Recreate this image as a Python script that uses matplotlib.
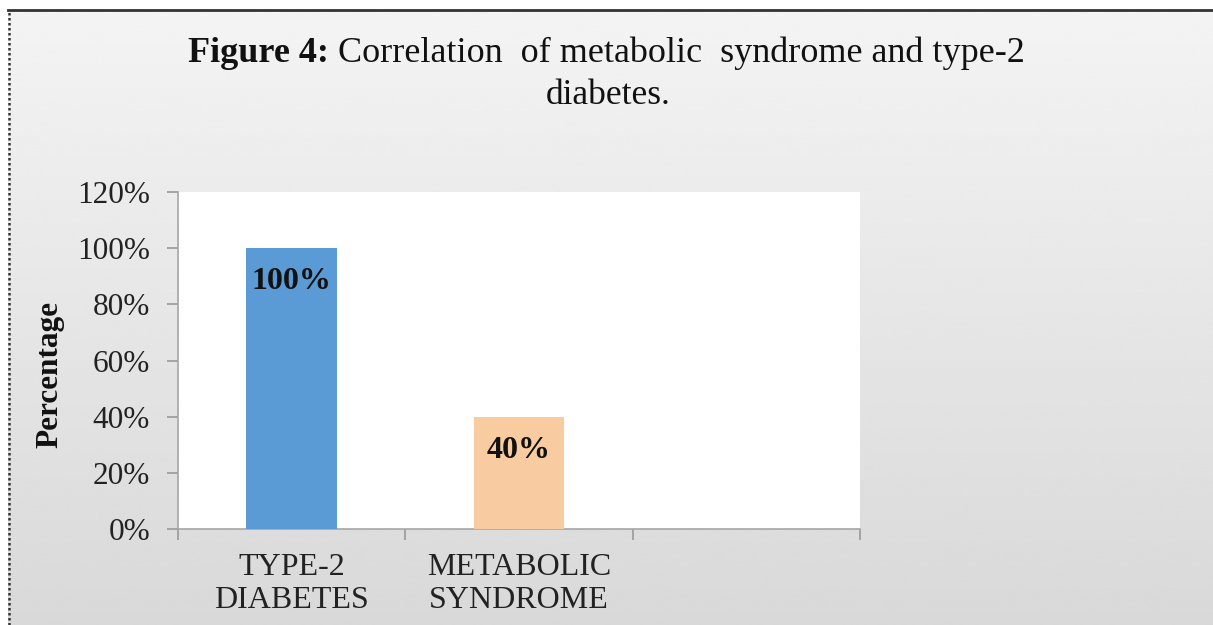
import numpy as np
import matplotlib
matplotlib.use("Agg")
import matplotlib.pyplot as plt
from matplotlib.lines import Line2D

categories = ["TYPE-2\nDIABETES", "METABOLIC\nSYNDROME", ""]
values = [100, 40, None]
value_labels = ["100%", "40%"]
bar_colors = ["#5B9BD5", "#F8CBA0"]
yticks = [0, 20, 40, 60, 80, 100, 120]
ytick_labels = ["0%", "20%", "40%", "60%", "80%", "100%", "120%"]

plt.rcParams["font.family"] = ["Liberation Serif", "DejaVu Serif"]

W, H = 1213, 625
fig = plt.figure(figsize=(W / 100, H / 100), dpi=100)
fig.patch.set_facecolor("white")

# Gradient chart-area background inside the frame
bg = fig.add_axes([8 / W, 0, 1 - 8 / W, 1 - 10 / H], zorder=0)
grad = np.linspace(0.955, 0.85, 256).reshape(-1, 1)
bg.imshow(np.repeat(grad, 2, axis=1), cmap="gray", vmin=0, vmax=1,
          aspect="auto", extent=[0, 1, 0, 1], interpolation="bicubic")
bg.set_xlim(0, 1)
bg.set_ylim(0, 1)
bg.axis("off")

# Frame: solid top edge, dotted left edge
fig.add_artist(Line2D([8 / W, 1], [1 - 10 / H, 1 - 10 / H], color="#333333",
                      lw=2.0, transform=fig.transFigure))
fig.add_artist(Line2D([9 / W, 9 / W], [0, 1 - 10 / H], color="#333333",
                      lw=1.8, ls=(0, (1, 1)), transform=fig.transFigure))

ax = fig.add_axes([178 / W, 1 - 529 / H, (860 - 178) / W, (529 - 192) / H], zorder=2)
ax.set_facecolor("white")

x = np.arange(len(categories))
bar_vals = [v if v is not None else 0 for v in values]
bars = ax.bar(x[:2], bar_vals[:2], width=0.4, color=bar_colors, zorder=3)

for xi, v, lab in zip(x[:2], bar_vals[:2], value_labels):
    ax.annotate(lab, (xi, v), xytext=(0, -24), textcoords="offset points",
                ha="center", va="center", fontsize=23, fontweight="bold",
                color="#111111", zorder=4)

ax.set_xlim(-0.5, 2.5)
ax.set_ylim(0, 120)
ax.set_yticks(yticks)
ax.set_yticklabels(ytick_labels, fontsize=22.5, color="#222222")
ax.set_xticks([-0.5, 0.5, 1.5, 2.5], minor=False)
ax.set_xticklabels([])
ax.set_xticks(x, minor=True)
ax.set_xticklabels(categories, minor=True, fontsize=23, color="#222222",
                   linespacing=1.22)
ax.tick_params(axis="x", which="minor", length=0, pad=17)
ax.tick_params(axis="x", which="major", length=8, color="#999999", width=1.2)
ax.tick_params(axis="y", length=8, color="#999999", width=1.2, pad=12)

for s in ["top", "right"]:
    ax.spines[s].set_visible(False)
for s in ["left", "bottom"]:
    ax.spines[s].set_color("#A6A6A6")
    ax.spines[s].set_linewidth(1.2)

fig.text(50 / W, 1 - 374 / H, "Percentage", rotation=90, ha="center",
         va="center", fontsize=22.5, fontweight="bold", color="#111111")

# Title: bold prefix followed by regular text
fig.canvas.draw()
renderer = fig.canvas.get_renderer()
t1 = fig.text(188 / W, 1 - 53 / H, "Figure 4:", ha="left", va="center",
              fontsize=26, fontweight="bold", color="#111111")
bb = t1.get_window_extent(renderer=renderer)
fig.text(bb.x1 / W, 1 - 53 / H, " Correlation  of metabolic  syndrome and type-2",
         ha="left", va="center", fontsize=26, color="#111111")
fig.text(608 / W, 1 - 96 / H, "diabetes.", ha="center", va="center",
         fontsize=25.5, color="#111111")

fig.savefig("out.png", dpi=100)
